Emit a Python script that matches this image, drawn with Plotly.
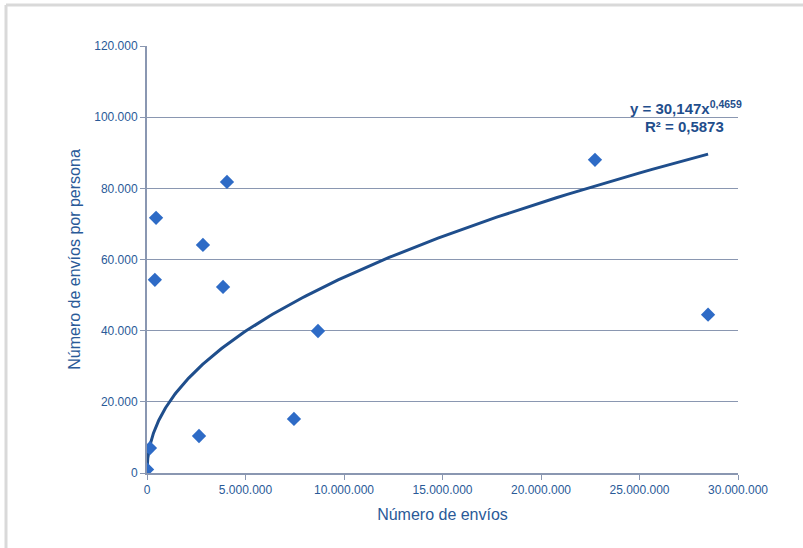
import numpy as np
import plotly.graph_objects as go

# Data
envios = [800, 150000, 460000, 400000, 2640000, 2840000, 4060000, 3860000,
          7460000, 8680000, 22740000, 28480000]
envios_por_persona = [1000, 7000, 71700, 54300, 10400, 64100, 81800, 52300,
                      15200, 39900, 88000, 44500]

# Trendline (power fit as printed on the chart)
coef_a = 30.147
coef_b = 0.4659
r2_text = "R² = 0,5873"
eq_text = "y = 30,147x<sup>0,4659</sup>"

x_ticks = [0, 5000000, 10000000, 15000000, 20000000, 25000000, 30000000]
y_ticks = [0, 20000, 40000, 60000, 80000, 100000, 120000]

xt = np.geomspace(min(envios), max(envios), 400)
yt = coef_a * xt ** coef_b

fig = go.Figure()
fig.add_trace(go.Scatter(x=xt, y=yt, mode="lines",
                         line=dict(color="#1f4e8c", width=3),
                         hoverinfo="skip", showlegend=False))
fig.add_trace(go.Scatter(x=envios, y=envios_por_persona, mode="markers",
                         marker=dict(symbol="diamond", size=11, color="#2e6bc6",
                                     line=dict(width=0)),
                         showlegend=False))

W, H = 803, 548
L, R, T, B = 147, 738, 46, 473
pw, ph = R - L, B - T
def px(x):
    return (x - L) / pw
def py(y):
    return (B - y) / ph

axis_col = "#8a97b1"
FONT = "Liberation Sans, Arial, sans-serif"
tick_font = dict(family=FONT, size=12, color="#2a5a98")

fig.update_layout(
    width=W, height=H,
    margin=dict(l=L, r=W - R, t=T, b=H - B, autoexpand=False),
    paper_bgcolor="white", plot_bgcolor="white",
    separators=",.",
    xaxis=dict(range=[0, 30000000], tickvals=x_ticks, tickformat=",d",
               showgrid=False, zeroline=False, showline=True, linecolor=axis_col,
               linewidth=2, ticks="outside", ticklen=5, tickcolor=axis_col,
               tickfont=tick_font, automargin=False,
               title=dict(text="Número de envíos", standoff=12,
                          font=dict(family=FONT, size=16, color="#2a5a98"))),
    yaxis=dict(range=[0, 120000], tickvals=y_ticks, tickformat=",d",
               showgrid=True, gridcolor=axis_col, gridwidth=1,
               zeroline=False, showline=True, linecolor=axis_col, linewidth=2,
               ticks="outside", ticklen=5, tickcolor=axis_col,
               tickfont=tick_font, automargin=False,
               title=dict(text="Número de envíos por persona", standoff=10,
                          font=dict(family=FONT, size=16, color="#2a5a98"))),
    annotations=[
        dict(xref="paper", yref="paper", x=px(686), y=py(107), text="<b>" + eq_text + "</b>",
             showarrow=False, xanchor="center", yanchor="middle",
             font=dict(family=FONT, size=15, color="#1f4e8c")),
        dict(xref="paper", yref="paper", x=px(684), y=py(126), text="<b>" + r2_text + "</b>",
             showarrow=False, xanchor="center", yanchor="middle",
             font=dict(family=FONT, size=15, color="#1f4e8c")),
    ],
    shapes=[
        dict(type="line", xref="paper", yref="paper", x0=px(6), x1=px(803), y0=py(5), y1=py(5),
             line=dict(color="#d9d9d9", width=3)),
        dict(type="line", xref="paper", yref="paper", x0=px(6), x1=px(6), y0=py(5), y1=py(548),
             line=dict(color="#d9d9d9", width=3)),
    ],
)

fig.write_html("out.html", config={"displayModeBar": False},
               post_script="document.body.style.margin='0';document.body.style.padding='0';")
